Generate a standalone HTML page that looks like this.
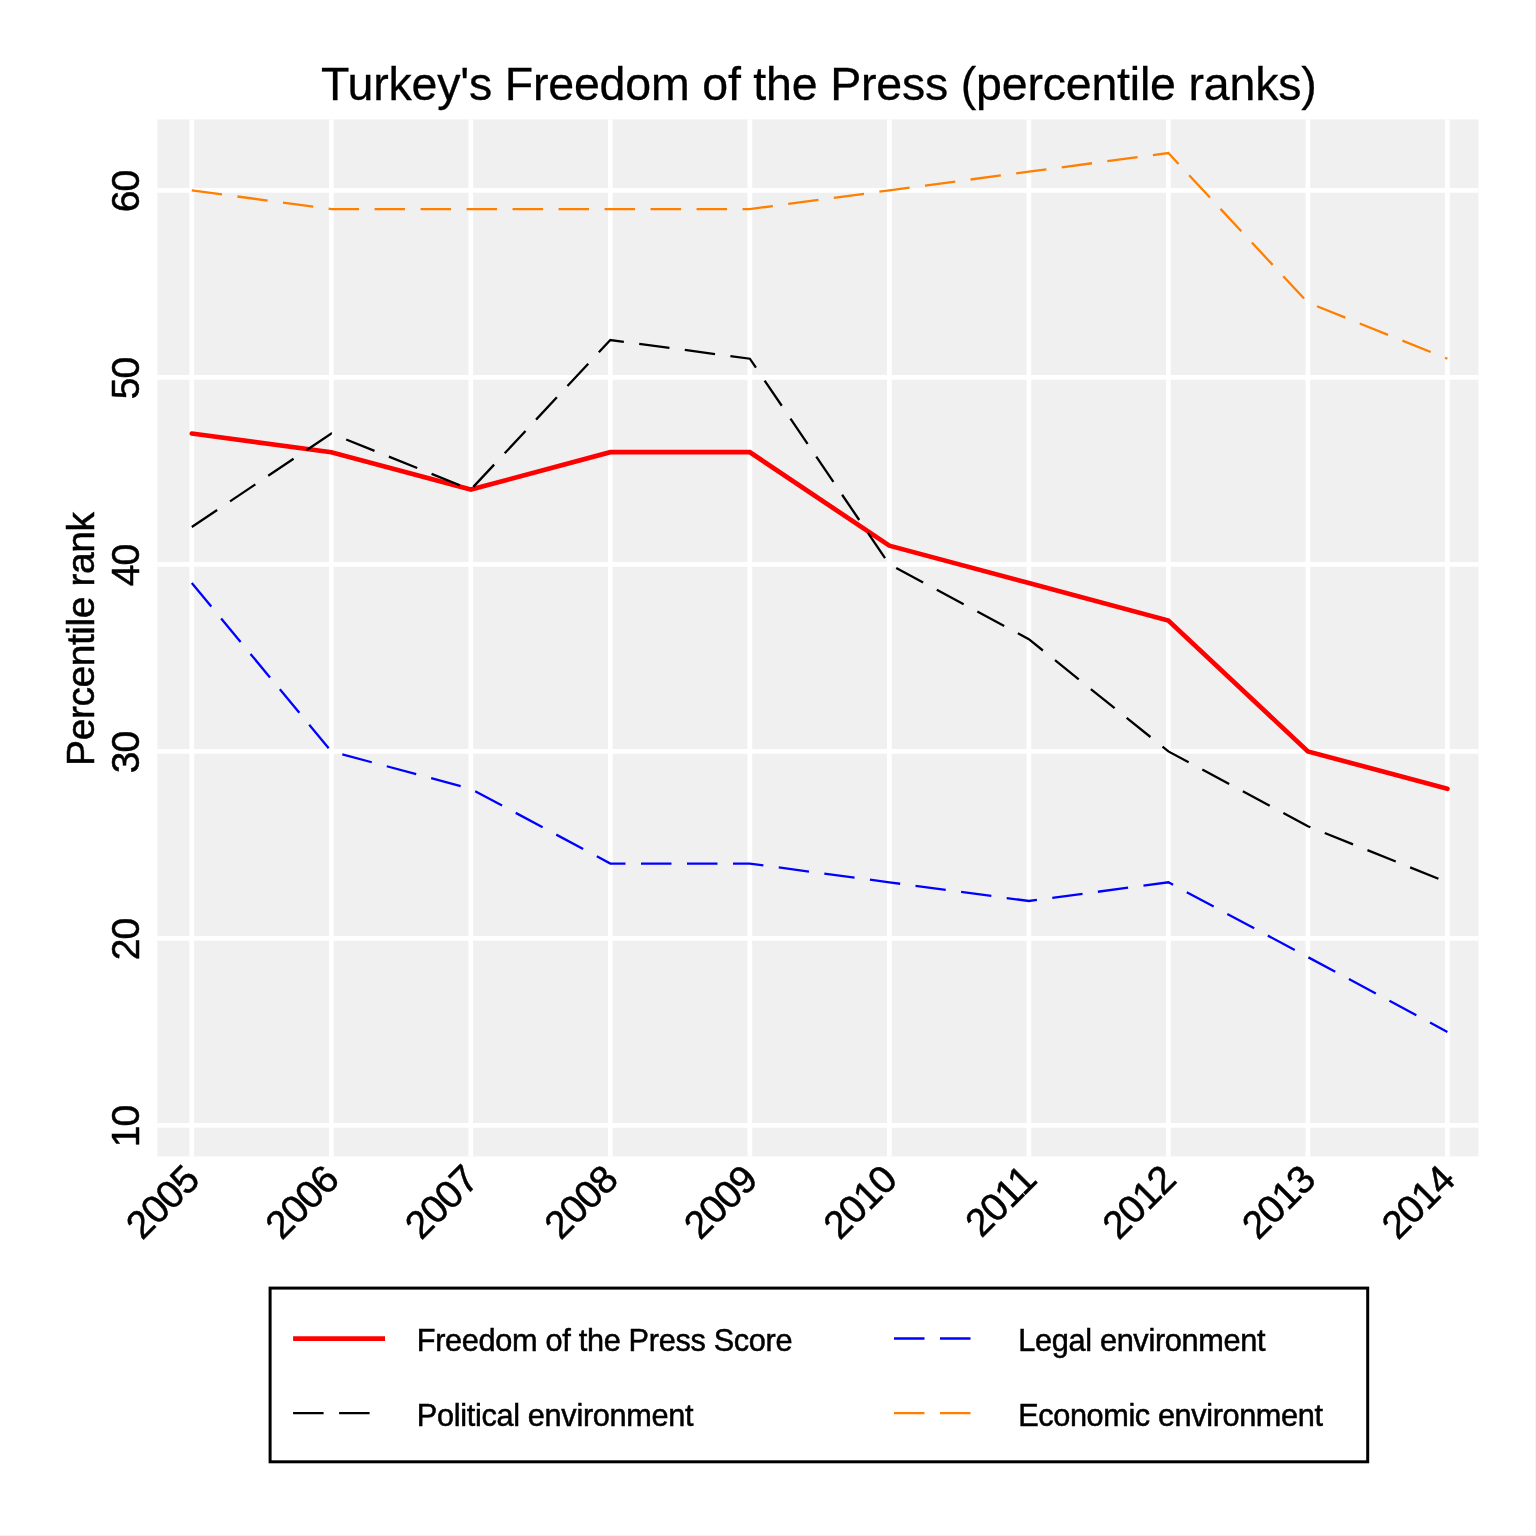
<!DOCTYPE html>
<html><head><meta charset="utf-8"><title>Turkey's Freedom of the Press</title>
<style>
html,body{margin:0;padding:0;background:#fff;}
svg{display:block;}
text{font-family:"Liberation Sans",Arial,Helvetica,sans-serif;fill:#000;stroke:#000;stroke-width:0.5px;}
.ttl{stroke-width:0.3px;}
</style></head>
<body>
<svg width="1536" height="1536" viewBox="0 0 1536 1536">
<rect width="1536" height="1536" fill="#fff"/>
<rect x="1535" y="0" width="1" height="1536" fill="#f2f5f7"/>
<rect x="0" y="1535" width="1536" height="1" fill="#f2f5f7"/>
<rect x="157.4" y="119.4" width="1321.00" height="1037.00" fill="#f0f0f0"/>
<line x1="157.4" x2="1478.4" y1="1125.40" y2="1125.40" stroke="#fff" stroke-width="4.7"/>
<line x1="157.4" x2="1478.4" y1="938.40" y2="938.40" stroke="#fff" stroke-width="4.7"/>
<line x1="157.4" x2="1478.4" y1="751.40" y2="751.40" stroke="#fff" stroke-width="4.7"/>
<line x1="157.4" x2="1478.4" y1="564.40" y2="564.40" stroke="#fff" stroke-width="4.7"/>
<line x1="157.4" x2="1478.4" y1="377.40" y2="377.40" stroke="#fff" stroke-width="4.7"/>
<line x1="157.4" x2="1478.4" y1="190.40" y2="190.40" stroke="#fff" stroke-width="4.7"/>
<line y1="119.4" y2="1156.4" x1="191.80" x2="191.80" stroke="#fff" stroke-width="4.7"/>
<line y1="119.4" y2="1156.4" x1="331.31" x2="331.31" stroke="#fff" stroke-width="4.7"/>
<line y1="119.4" y2="1156.4" x1="470.82" x2="470.82" stroke="#fff" stroke-width="4.7"/>
<line y1="119.4" y2="1156.4" x1="610.33" x2="610.33" stroke="#fff" stroke-width="4.7"/>
<line y1="119.4" y2="1156.4" x1="749.84" x2="749.84" stroke="#fff" stroke-width="4.7"/>
<line y1="119.4" y2="1156.4" x1="889.35" x2="889.35" stroke="#fff" stroke-width="4.7"/>
<line y1="119.4" y2="1156.4" x1="1028.86" x2="1028.86" stroke="#fff" stroke-width="4.7"/>
<line y1="119.4" y2="1156.4" x1="1168.37" x2="1168.37" stroke="#fff" stroke-width="4.7"/>
<line y1="119.4" y2="1156.4" x1="1307.88" x2="1307.88" stroke="#fff" stroke-width="4.7"/>
<line y1="119.4" y2="1156.4" x1="1447.39" x2="1447.39" stroke="#fff" stroke-width="4.7"/>
<polyline points="191.80,433.50 331.31,452.20 470.82,489.60 610.33,452.20 749.84,452.20 889.35,545.70 1028.86,583.10 1168.37,620.50 1307.88,751.40 1447.39,788.80" fill="none" stroke="#ff0000" stroke-width="4.7" stroke-linecap="round" stroke-linejoin="miter"/>
<polyline points="191.80,527.00 331.31,433.50 470.82,489.60 610.33,340.00 749.84,358.70 889.35,564.40 1028.86,639.20 1168.37,751.40 1307.88,826.20 1447.39,882.30" fill="none" stroke="#000" stroke-width="2.3" stroke-dasharray="30.5 15.5" stroke-linejoin="miter"/>
<polyline points="191.80,583.10 331.31,751.40 470.82,788.80 610.33,863.60 749.84,863.60 889.35,882.30 1028.86,901.00 1168.37,882.30 1307.88,957.10 1447.39,1031.90" fill="none" stroke="#0000ff" stroke-width="2.3" stroke-dasharray="30.5 15.5" stroke-linejoin="miter"/>
<polyline points="191.80,190.40 331.31,209.10 470.82,209.10 610.33,209.10 749.84,209.10 889.35,190.40 1028.86,171.70 1168.37,153.00 1307.88,302.60 1447.39,358.70" fill="none" stroke="#ff7f00" stroke-width="2.3" stroke-dasharray="30.5 15.5" stroke-linejoin="miter"/>
<text class="ttl" x="818.8" y="99.7" font-size="46.5" letter-spacing="-0.19" text-anchor="middle">Turkey's Freedom of the Press (percentile ranks)</text>
<text transform="translate(138.9,1126.40) rotate(-90)" font-size="39" letter-spacing="-0.9" text-anchor="middle">10</text>
<text transform="translate(138.9,939.40) rotate(-90)" font-size="39" letter-spacing="-0.9" text-anchor="middle">20</text>
<text transform="translate(138.9,752.40) rotate(-90)" font-size="39" letter-spacing="-0.9" text-anchor="middle">30</text>
<text transform="translate(138.9,565.40) rotate(-90)" font-size="39" letter-spacing="-0.9" text-anchor="middle">40</text>
<text transform="translate(138.9,378.40) rotate(-90)" font-size="39" letter-spacing="-0.9" text-anchor="middle">50</text>
<text transform="translate(138.9,191.40) rotate(-90)" font-size="39" letter-spacing="-0.9" text-anchor="middle">60</text>
<text transform="translate(94.2,639.2) rotate(-90)" font-size="39" letter-spacing="-0.45" text-anchor="middle">Percentile rank</text>
<text transform="translate(201.10,1182.1) rotate(-45)" font-size="39" letter-spacing="-0.9" text-anchor="end">2005</text>
<text transform="translate(340.61,1182.1) rotate(-45)" font-size="39" letter-spacing="-0.9" text-anchor="end">2006</text>
<text transform="translate(480.12,1182.1) rotate(-45)" font-size="39" letter-spacing="-0.9" text-anchor="end">2007</text>
<text transform="translate(619.63,1182.1) rotate(-45)" font-size="39" letter-spacing="-0.9" text-anchor="end">2008</text>
<text transform="translate(759.14,1182.1) rotate(-45)" font-size="39" letter-spacing="-0.9" text-anchor="end">2009</text>
<text transform="translate(898.65,1182.1) rotate(-45)" font-size="39" letter-spacing="-0.9" text-anchor="end">2010</text>
<text transform="translate(1038.16,1182.1) rotate(-45)" font-size="39" letter-spacing="-0.9" text-anchor="end">2011</text>
<text transform="translate(1177.67,1182.1) rotate(-45)" font-size="39" letter-spacing="-0.9" text-anchor="end">2012</text>
<text transform="translate(1317.18,1182.1) rotate(-45)" font-size="39" letter-spacing="-0.9" text-anchor="end">2013</text>
<text transform="translate(1456.69,1182.1) rotate(-45)" font-size="39" letter-spacing="-0.9" text-anchor="end">2014</text>
<rect x="270.1" y="1288.1" width="1097.6" height="173.7" fill="#fff" stroke="#000" stroke-width="3"/>
<line x1="293.1" x2="385" y1="1338.6" y2="1338.6" stroke="#ff0000" stroke-width="4.7"/>
<line x1="293.1" x2="370" y1="1413.2" y2="1413.2" stroke="#000" stroke-width="2.3" stroke-dasharray="30.5 15.5"/>
<line x1="894" x2="971.2" y1="1338.5" y2="1338.5" stroke="#0000ff" stroke-width="2.3" stroke-dasharray="30.5 15.5"/>
<line x1="894" x2="971.2" y1="1413.2" y2="1413.2" stroke="#ff7f00" stroke-width="2.3" stroke-dasharray="30.5 15.5"/>
<text x="416.8" y="1351" font-size="30.7" letter-spacing="-0.32">Freedom of the Press Score</text>
<text x="416.8" y="1426.1" font-size="30.7" letter-spacing="-0.32">Political environment</text>
<text x="1018.2" y="1351" font-size="30.7" letter-spacing="-0.32">Legal environment</text>
<text x="1018.2" y="1426.1" font-size="30.7" letter-spacing="-0.39">Economic environment</text>
</svg>
</body></html>
